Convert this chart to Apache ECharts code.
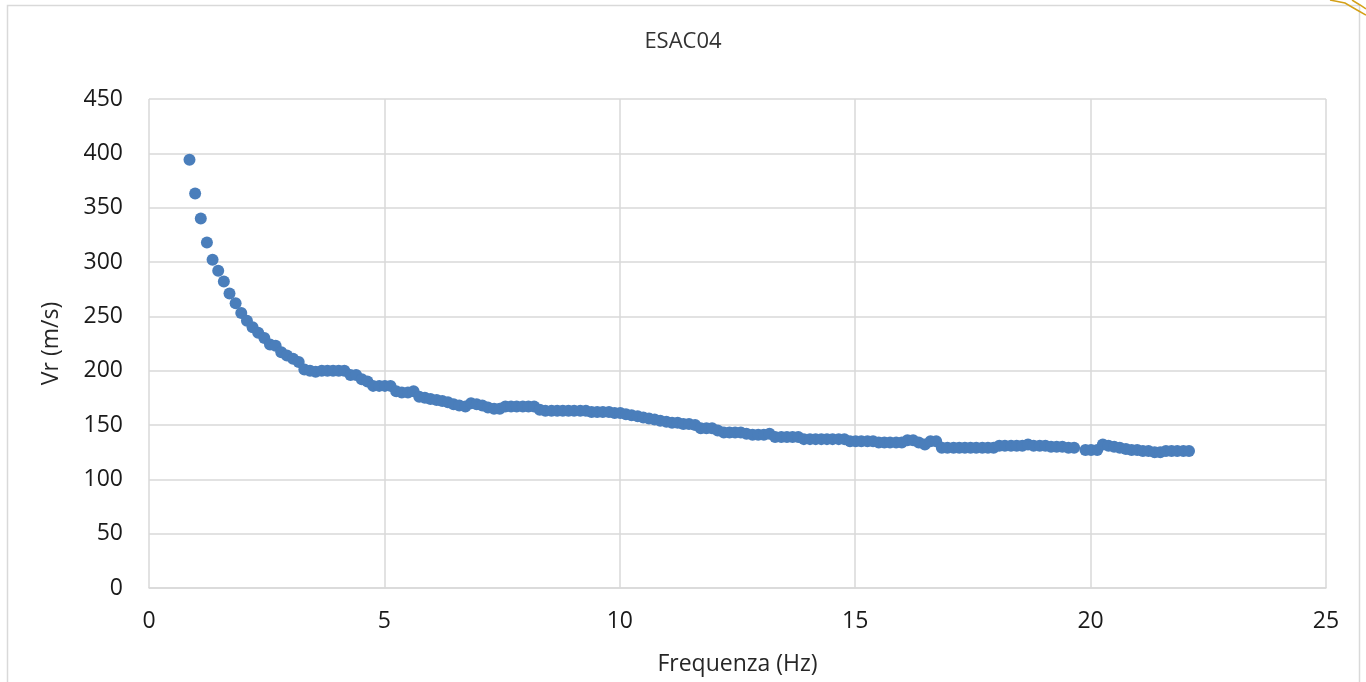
<!DOCTYPE html>
<html>
<head>
<meta charset="utf-8">
<script src="https://cdn.jsdelivr.net/npm/echarts@6/dist/echarts.min.js"></script>
<style>
  html, body { margin: 0; padding: 0; background: #fff; }
  #chart { width: 1366px; height: 682px; }
</style>
</head>
<body>
<div id="chart"></div>
<script>
// Dispersion curve ESAC04: Rayleigh phase velocity vs frequency
const chartTitle = 'ESAC04';
const xAxisName = 'Frequenza (Hz)';
const yAxisName = 'Vr (m/s)';

const frequency = [
  0.86, 0.98, 1.10, 1.23, 1.35, 1.47, 1.59, 1.71, 1.84, 1.96,
  2.08, 2.20, 2.32, 2.45, 2.57, 2.69, 2.81, 2.93, 3.06, 3.18,
  3.30, 3.42, 3.54, 3.67, 3.79, 3.91, 4.03, 4.15, 4.28, 4.40,
  4.52, 4.64, 4.76, 4.89, 5.01, 5.13, 5.25, 5.37, 5.50, 5.62,
  5.74, 5.86, 5.98, 6.11, 6.23, 6.35, 6.47, 6.59, 6.72, 6.84,
  6.96, 7.08, 7.20, 7.33, 7.45, 7.57, 7.69, 7.81, 7.94, 8.06,
  8.18, 8.30, 8.42, 8.55, 8.67, 8.79, 8.91, 9.03, 9.16, 9.28,
  9.40, 9.52, 9.64, 9.77, 9.89, 10.01, 10.13, 10.25, 10.38, 10.50,
  10.62, 10.74, 10.86, 10.99, 11.11, 11.23, 11.35, 11.47, 11.60, 11.72,
  11.84, 11.96, 12.08, 12.21, 12.33, 12.45, 12.57, 12.69, 12.82, 12.94,
  13.06, 13.18, 13.30, 13.43, 13.55, 13.67, 13.79, 13.91, 14.04, 14.16,
  14.28, 14.40, 14.52, 14.65, 14.77, 14.89, 15.01, 15.13, 15.26, 15.38,
  15.50, 15.62, 15.74, 15.87, 15.99, 16.11, 16.23, 16.35, 16.48, 16.60,
  16.72, 16.84, 16.96, 17.09, 17.21, 17.33, 17.45, 17.57, 17.70, 17.82,
  17.94, 18.06, 18.18, 18.31, 18.43, 18.55, 18.67, 18.79, 18.92, 19.04,
  19.16, 19.28, 19.40, 19.53, 19.65, 19.89, 20.01, 20.14, 20.26, 20.38,
  20.50, 20.62, 20.75, 20.87, 20.99, 21.11, 21.23, 21.36, 21.48, 21.60,
  21.72, 21.84, 21.97, 22.09
];

const velocity = [
  394, 363, 340, 318, 302, 292, 282, 271, 262, 253,
  246, 240, 235, 230, 224, 223, 217, 214, 211, 208,
  201, 200, 199, 200, 200, 200, 200, 200, 196, 196,
  192, 190, 186, 186, 186, 186, 181, 180, 180, 181,
  176, 175, 174, 173, 172, 171, 169, 168, 167, 170,
  169, 168, 166, 165, 165, 167, 167, 167, 167, 167,
  167, 164, 163, 163, 163, 163, 163, 163, 163, 163,
  162, 162, 162, 162, 161, 161, 160, 159, 158, 157,
  156, 155, 154, 153, 152, 152, 151, 151, 150, 147,
  147, 147, 145, 143, 143, 143, 143, 142, 141, 141,
  141, 142, 139, 139, 139, 139, 139, 137, 137, 137,
  137, 137, 137, 137, 137, 135, 135, 135, 135, 135,
  134, 134, 134, 134, 134, 136, 136, 134, 132, 135,
  135, 129, 129, 129, 129, 129, 129, 129, 129, 129,
  129, 131, 131, 131, 131, 131, 132, 131, 131, 131,
  130, 130, 130, 129, 129, 127, 127, 127, 132, 131,
  130, 129, 128, 127, 127, 126, 126, 125, 125, 126,
  126, 126, 126, 126
];

const xTicks = [0, 5, 10, 15, 20, 25];
const yTicks = [0, 50, 100, 150, 200, 250, 300, 350, 400, 450];

const points = frequency.map((f, i) => [f, velocity[i]]);

const chart = echarts.init(document.getElementById('chart'), null, { renderer: 'canvas' });
const fontFamily = "'Open Sans', 'Noto Sans', sans-serif";

chart.setOption({
  backgroundColor: '#ffffff',
  animation: false,
  title: {
    text: chartTitle,
    left: 'center',
    top: 26,
    textStyle: { fontFamily, fontSize: 22, fontWeight: 'normal', color: '#333333' }
  },
  grid: { left: 149, right: 40, top: 99, bottom: 94, containLabel: false, outerBoundsMode: 'none' },
  xAxis: {
    type: 'value',
    min: xTicks[0],
    max: xTicks[xTicks.length - 1],
    interval: 5,
    name: xAxisName,
    nameLocation: 'middle',
    nameGap: 65,
    nameTextStyle: { fontFamily, fontSize: 23, color: '#262626' },
    axisLine: { show: true, lineStyle: { color: '#d9d9d9', width: 1.5 } },
    axisTick: { show: false },
    axisLabel: { fontFamily, fontSize: 23, color: '#1a1a1a', margin: 22 },
    splitLine: { show: true, lineStyle: { color: '#d9d9d9', width: 1.5 } }
  },
  yAxis: {
    type: 'value',
    min: yTicks[0],
    max: yTicks[yTicks.length - 1],
    interval: 50,
    name: yAxisName,
    nameLocation: 'middle',
    nameGap: 86,
    nameRotate: 90,
    nameTextStyle: { fontFamily, fontSize: 23, color: '#262626' },
    axisLine: { show: false },
    axisTick: { show: false },
    axisLabel: { fontFamily, fontSize: 23, color: '#1a1a1a', margin: 26 },
    splitLine: { show: true, lineStyle: { color: '#d9d9d9', width: 1.5 } }
  },
  graphic: [
    {
      type: 'rect',
      shape: { x: 7.5, y: 5.5, width: 1352, height: 690 },
      style: { fill: 'none', stroke: '#d9d9d9', lineWidth: 1.5 },
      silent: true, z: -1
    },
    {
      type: 'polyline',
      shape: { points: [[1330, 0], [1345, 3], [1357, 10], [1366, 15]] },
      style: { stroke: '#d4a017', lineWidth: 1.5, fill: 'none' },
      silent: true
    },
    {
      type: 'polyline',
      shape: { points: [[1352, 0], [1360, 5], [1366, 9]] },
      style: { stroke: '#d4a017', lineWidth: 1.5, fill: 'none' },
      silent: true
    }
  ],
  series: [{
    type: 'scatter',
    data: points,
    symbol: 'circle',
    symbolSize: 12,
    itemStyle: { color: '#4a7ebb', opacity: 1 },
    emphasis: { disabled: true }
  }]
});
</script>
</body>
</html>
